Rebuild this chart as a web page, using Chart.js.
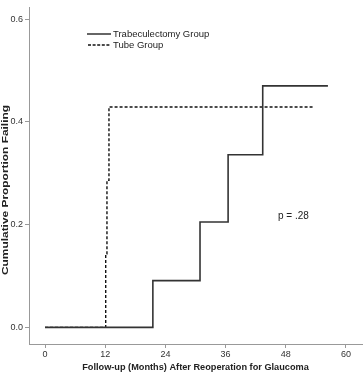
<!DOCTYPE html>
<html>
<head>
<meta charset="utf-8">
<script src="https://cdn.jsdelivr.net/npm/chart.js@4"></script>
<style>
  html, body { margin: 0; padding: 0; background: #fff; }
  #wrap { width: 363px; height: 374px; }
</style>
</head>
<body>
<div id="wrap"><canvas id="km"></canvas></div>
<script>
// Kaplan-Meier style cumulative failure curves
const trabMonths = [0, 21.5, 30.9, 36.5, 43.4, 56.4];
const trabFailing = [0, 0.091, 0.205, 0.336, 0.47, 0.47];
const tubeMonths = [0, 12.1, 12.35, 12.75, 53.4];
const tubeFailing = [0, 0.143, 0.286, 0.429, 0.429];

const xTicks = [0, 12, 24, 36, 48, 60];
const yTicks = [0, 0.2, 0.4, 0.6];

const seriesNames = ["Trabeculectomy Group", "Tube Group"];
const pValueText = "p = .28";
const yTitle = "Cumulative Proportion Failing";
const xTitle = "Follow-up (Months) After Reoperation for Glaucoma";

const FONT = "'Liberation Sans', Arial, sans-serif";

const toPoints = (xs, ys) => xs.map((x, i) => ({ x, y: ys[i] }));

// legend, p value and y title drawn by hand
const overlay = {
    id: "overlay",
    afterDatasetsDraw(chart) {
        const ctx = chart.ctx;
        ctx.save();
        ctx.font = "9.5px " + FONT;
        ctx.fillStyle = "#222";
        ctx.textBaseline = "middle";

        ctx.strokeStyle = "#333";
        ctx.lineWidth = 1.5;
        ctx.beginPath();
        ctx.moveTo(87, 34);
        ctx.lineTo(111, 34);
        ctx.stroke();
        ctx.fillText(seriesNames[0], 113, 34);

        ctx.strokeStyle = "#111";
        ctx.setLineDash([3, 1.6]);
        ctx.beginPath();
        ctx.moveTo(88, 45);
        ctx.lineTo(111, 45);
        ctx.stroke();
        ctx.setLineDash([]);
        ctx.fillText(seriesNames[1], 113, 45);

        ctx.font = "10px " + FONT;
        ctx.fillText(pValueText, 278, 216);

        // y axis title, stretched a bit to match the original length
        ctx.font = "bold 9.5px " + FONT;
        const w = ctx.measureText(yTitle).width;
        ctx.translate(5.5, 190);
        ctx.rotate(-Math.PI / 2);
        ctx.scale(170 / w, 1);
        ctx.textAlign = "center";
        ctx.fillText(yTitle, 0, 0);
        ctx.restore();
    }
};

new Chart(document.getElementById("km"), {
    type: "line",
    data: {
        datasets: [
            {
                label: seriesNames[0],
                data: toPoints(trabMonths, trabFailing),
                borderColor: "#333",
                borderWidth: 1.6,
                stepped: "before",
                pointRadius: 0,
                fill: false
            },
            {
                label: seriesNames[1],
                data: toPoints(tubeMonths, tubeFailing),
                borderColor: "#111",
                borderWidth: 1.4,
                borderDash: [3, 2],
                stepped: "before",
                pointRadius: 0,
                fill: false
            }
        ]
    },
    options: {
        responsive: true,
        maintainAspectRatio: false,
        animation: false,
        layout: { padding: { left: 0, right: 1, top: 0, bottom: 0 } },
        plugins: { legend: { display: false }, tooltip: { enabled: false } },
        scales: {
            x: {
                type: "linear",
                min: -3.19,
                max: 63.19,
                afterBuildTicks: s => { s.ticks = xTicks.map(v => ({ value: v })); },
                afterFit: s => { s.height = 30; },
                grid: { drawOnChartArea: false, tickLength: 4, color: "#999" },
                border: { color: "#999", width: 1 },
                ticks: { font: { size: 9, family: FONT }, color: "#333", padding: 1 },
                title: {
                    display: true,
                    text: xTitle,
                    font: { size: 9.2, weight: "bold", family: FONT },
                    color: "#222",
                    padding: { top: 2, bottom: 1 }
                }
            },
            y: {
                type: "linear",
                min: -0.0324,
                max: 0.6227,
                afterBuildTicks: s => { s.ticks = yTicks.map(v => ({ value: v })); },
                afterFit: s => { s.width = 29; },
                grid: { drawOnChartArea: false, tickLength: 4, color: "#999" },
                border: { color: "#999", width: 1 },
                ticks: {
                    font: { size: 9, family: FONT },
                    color: "#333",
                    padding: 2,
                    callback: v => v.toFixed(1)
                }
            }
        }
    },
    plugins: [overlay]
});
</script>
</body>
</html>
